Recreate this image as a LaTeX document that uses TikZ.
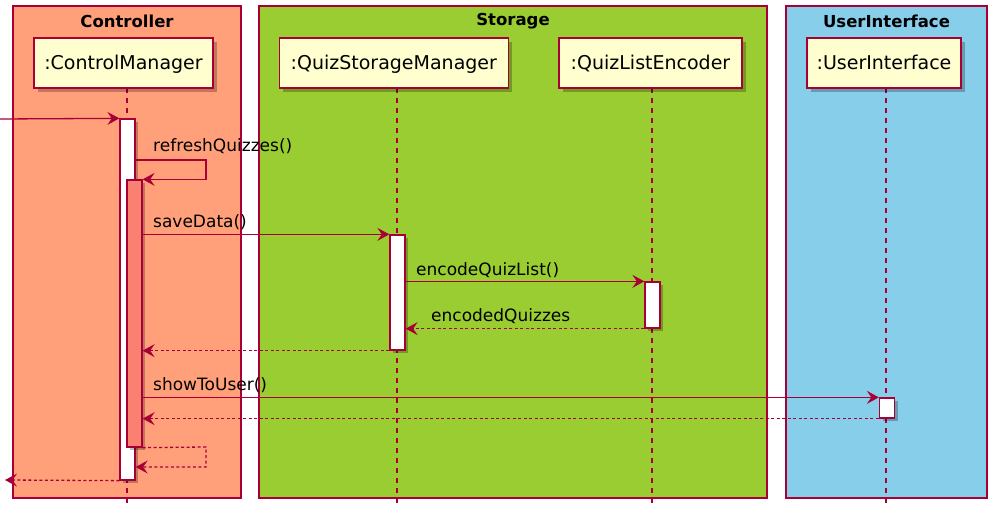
\documentclass[tikz,border=0pt]{standalone}
\usepackage{fontspec}
\setmainfont{DejaVu Sans}
\usetikzlibrary{arrows.meta,shadows}
\definecolor{bord}{HTML}{A80036}
\definecolor{partfill}{HTML}{FEFECE}
\definecolor{ctrlfill}{HTML}{FFA07A}
\definecolor{storfill}{HTML}{9ACD32}
\definecolor{uifill}{HTML}{87CEEB}
\definecolor{salmonfill}{HTML}{FA8072}
\tikzset{
  grp/.style={rectangle, draw=bord, line width=1.2pt, minimum height=492pt, inner sep=0pt},
  grptitle/.style={font=\fontsize{16.5}{18}\selectfont\bfseries, inner sep=0pt},
  part/.style={rectangle, draw=bord, fill=partfill, line width=1.6pt, minimum height=50pt, inner sep=0pt,
    font=\fontsize{19}{22}\selectfont, text height=14pt, text depth=0pt,
    drop shadow={shadow xshift=4pt, shadow yshift=-4pt, fill=black, opacity=0.25}},
  life/.style={draw=bord, line width=1.3pt, dash pattern=on 5pt off 5pt},
  act/.style={rectangle, draw=bord, fill=white, line width=1.3pt, minimum width=15pt, inner sep=0pt,
    drop shadow={shadow xshift=3pt, shadow yshift=-3pt, fill=black, opacity=0.25}},
  msg/.style={draw=bord, line width=1.3pt, -{Stealth[length=12pt, width=13pt, inset=4.5pt]}},
  ret/.style={msg, dash pattern=on 3pt off 2.5pt},
  lbl/.style={font=\fontsize{17}{20}\selectfont, anchor=base west, inner sep=0pt},
}
\begin{document}
\begin{tikzpicture}[x=1pt,y=-1pt]
\useasboundingbox (0,0) rectangle (1002,524);
% groups
\node[grp, fill=ctrlfill, minimum width=228pt] (gctrl) at (127,252) {};
\node[grp, fill=storfill, minimum width=508pt] (gstor) at (513,252) {};
\node[grp, fill=uifill, minimum width=201pt] (gui) at (886.5,252) {};
\node[grptitle] (tctrl) at (127,21) {Controller};
\node[grptitle] (tstor) at (513,21) {Storage};
\node[grptitle] (tui) at (886.5,21) {UserInterface};
% lifelines
\coordinate (cmTop) at (127,88);  \coordinate (cmBot) at (127,507);
\coordinate (qsmTop) at (397,88); \coordinate (qsmBot) at (397,507);
\coordinate (qleTop) at (652,88); \coordinate (qleBot) at (652,507);
\coordinate (uiTop) at (886,88);  \coordinate (uiBot) at (886,507);
\draw[life] (cmTop) -- (cmBot);
\draw[life] (qsmTop) -- (qsmBot);
\draw[life] (qleTop) -- (qleBot);
\draw[life] (uiTop) -- (uiBot);
% participants
\node[part, minimum width=179pt] (cm) at (123.5,63) {:ControlManager};
\node[part, minimum width=229pt] (qsm) at (393.8,63) {:QuizStorageManager};
\node[part, minimum width=183pt] (qle) at (650.5,63) {:QuizListEncoder};
\node[part, minimum width=154pt] (ui) at (884,63) {:UserInterface};
% activations
\node[act, minimum height=361pt] (cmA) at (127.5,299.5) {};
\node[act, fill=salmonfill, minimum height=267pt] (cmB) at (134.5,313.5) {};
\node[act, minimum height=115pt] (qsmA) at (397.5,292.5) {};
\node[act, minimum height=46pt] (qleA) at (652.5,305) {};
\node[act, minimum height=20pt] (uiA) at (887,408) {};
% messages
\coordinate (inStart) at (0,119);
\draw[msg] (inStart) -- (cmA.north west);
\coordinate (selfA) at (206,160);
\draw[msg] (cmA.east |- selfA) -- (selfA) |- (cmB.north east);
\node[lbl] (lref) at (153,152) {refreshQuizzes()};
\draw[msg] (cmB.east |- qsmA.north) -- (qsmA.north west);
\node[lbl] (lsave) at (153,227) {saveData()};
\draw[msg] (qsmA.east |- qleA.north) -- (qleA.north west);
\node[lbl] (lenc) at (416,275) {encodeQuizList()};
\draw[ret] (qleA.south west) -- (qsmA.east |- qleA.south);
\node[lbl] (lencd) at (431,321.5) {encodedQuizzes};
\draw[ret] (qsmA.south west) -- (cmB.east |- qsmA.south);
\draw[msg] (cmB.east |- uiA.north) -- (uiA.north west);
\node[lbl] (lshow) at (153,390) {showToUser()};
\draw[ret] (uiA.south west) -- (cmB.east |- uiA.south);
\coordinate (selfB) at (206,447);
\coordinate (selfC) at (206,467);
\draw[ret] (cmB.south east) -- (selfB) -- (selfC) -- (cmA.east |- selfC);
\coordinate (outEnd) at (5,480);
\draw[ret] (cmA.south west) -- (outEnd);
\end{tikzpicture}
\end{document}
